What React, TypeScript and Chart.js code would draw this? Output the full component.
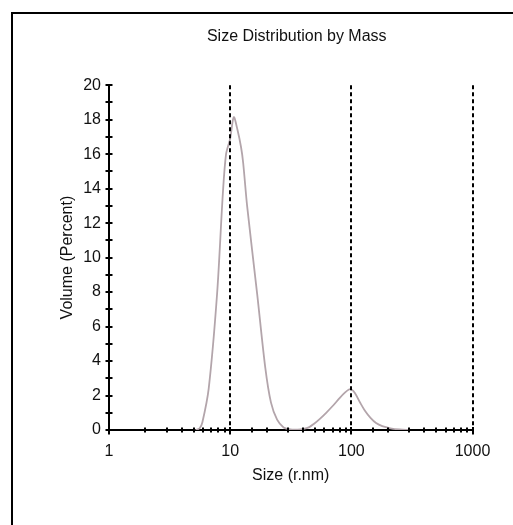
import React, { useEffect, useRef } from "react";
import { Chart, registerables } from "chart.js";

Chart.register(...registerables);

const chartTitle = "Size Distribution by Mass";
const xAxisTitle = "Size (r.nm)";
const yAxisTitle = "Volume (Percent)";

// size (r.nm)
const sizes = [
  5.2, 5.6, 5.9, 6.65, 7.8, 8.7, 9.25, 10, 10.7, 11.5, 12.3, 12.8, 13.8, 16.7,
  19.5, 21.7, 24.4, 27.6, 31.4, 36, 40.4, 45, 49, 55, 62, 71.4, 80, 88, 95.5,
  100, 107, 119, 130, 144, 160, 180, 210, 250, 300,
];
// volume (percent)
const volumes = [
  0, 0.1, 0.45, 2.4, 7.9, 13.7, 16, 16.9, 18.15, 17.4, 16.4, 15.5, 13, 7.9, 3.6,
  1.6, 0.6, 0.15, 0.03, 0.02, 0.06, 0.17, 0.35, 0.65, 1.0, 1.45, 1.85, 2.15,
  2.35, 2.35, 2.15, 1.55, 1.1, 0.7, 0.4, 0.22, 0.1, 0.03, 0,
];

const xLabelValues = [1, 10, 100, 1000];
const referenceLines = [10, 100, 1000];
const yMin = 0;
const yMax = 20;
const xMin = 1;
const xMax = 1000;

const FONT = "'Liberation Sans', Arial, sans-serif";

const tickPlugin = {
  id: "customTicks",
  afterLayout(chart: any) {
    const t = chart.titleBlock;
    if (t) {
      t.left += 6;
      t.right += 6;
    }
  },
  afterDraw(chart: any) {
    const ctx = chart.ctx;
    const xs = chart.scales.x;
    const ys = chart.scales.y;
    const area = chart.chartArea;
    ctx.save();
    // dashed reference lines
    ctx.strokeStyle = "#000";
    ctx.lineWidth = 2;
    ctx.setLineDash([4, 3]);
    referenceLines.forEach((v) => {
      const px = Math.round(xs.getPixelForValue(v));
      ctx.beginPath();
      ctx.moveTo(px, area.top);
      ctx.lineTo(px, area.bottom);
      ctx.stroke();
    });
    ctx.setLineDash([]);
    ctx.lineWidth = 2;
    // x tick marks
    const yb = area.bottom;
    xs.ticks.forEach((tk: any) => {
      const px = Math.round(xs.getPixelForValue(tk.value));
      const major = xLabelValues.includes(tk.value);
      ctx.beginPath();
      ctx.moveTo(px, yb - (major ? 3 : 2.5));
      ctx.lineTo(px, yb + (major ? 4.5 : 2.5));
      ctx.stroke();
    });
    // y tick marks
    const xl = area.left;
    ys.ticks.forEach((tk: any) => {
      const py = Math.round(ys.getPixelForValue(tk.value));
      ctx.beginPath();
      ctx.moveTo(xl - 3.5, py);
      ctx.lineTo(xl + 3.5, py);
      ctx.stroke();
    });
    ctx.restore();
  },
};

export default function App() {
  const ref = useRef<HTMLCanvasElement | null>(null);
  useEffect(() => {
    if (!ref.current) return;
    const chart = new Chart(ref.current, {
      type: "line",
      data: {
        datasets: [
          {
            data: sizes.map((s, i) => ({ x: s, y: volumes[i] })),
            borderColor: "#b3a5ab",
            borderWidth: 1.8,
            pointRadius: 0,
            tension: 0.3,
            fill: false,
          },
        ],
      },
      options: {
        animation: false,
        responsive: false,
        maintainAspectRatio: false,
        layout: { padding: { left: 0, right: 40.5, top: 0, bottom: 0 } },
        plugins: {
          legend: { display: false },
          tooltip: { enabled: false },
          title: {
            display: true,
            text: chartTitle,
            fullSize: false,
            color: "#111",
            font: { family: FONT, size: 16, weight: "normal" },
            padding: { top: 27, bottom: 39 },
          },
        },
        scales: {
          x: {
            type: "logarithmic",
            min: xMin,
            max: xMax,
            grid: { display: false },
            border: { display: true, color: "#000", width: 2 },
            afterFit: (s: any) => {
              s.height = 95;
            },
            ticks: {
              autoSkip: false,
              maxRotation: 0,
              padding: 4,
              color: "#111",
              font: { family: FONT, size: 16 },
              callback: (v: any) =>
                xLabelValues.includes(Number(v)) ? String(v) : "",
            },
            title: {
              display: true,
              text: xAxisTitle,
              color: "#111",
              font: { family: FONT, size: 16 },
              padding: { top: 0, bottom: 39.5 },
            },
          },
          y: {
            type: "linear",
            min: yMin,
            max: yMax,
            grid: { display: false },
            border: { display: true, color: "#000", width: 2 },
            afterFit: (s: any) => {
              s.width = 109;
            },
            ticks: {
              stepSize: 1,
              autoSkip: false,
              padding: 0,
              color: "#111",
              font: { family: FONT, size: 16 },
              callback: (v: any) => (Number(v) % 2 === 0 ? String(v) : ""),
            },
            title: {
              display: true,
              text: yAxisTitle,
              color: "#111",
              font: { family: FONT, size: 16 },
              padding: { top: 58.4, bottom: 0 },
            },
          },
        },
      },
      plugins: [tickPlugin],
    } as any);
    return () => chart.destroy();
  }, []);

  return (
    <div style={{ position: "absolute", left: 0, top: 0, width: 513, height: 525, overflow: "hidden", background: "#fff" }}>
      <div
        style={{
          position: "absolute",
          left: 11,
          top: 11.5,
          width: 540,
          height: 560,
          border: "2px solid #000",
          boxSizing: "border-box",
        }}
      />
      <canvas
        ref={ref}
        width={513}
        height={525}
        style={{ position: "absolute", left: 0, top: 0, width: 513, height: 525 }}
      />
    </div>
  );
}
